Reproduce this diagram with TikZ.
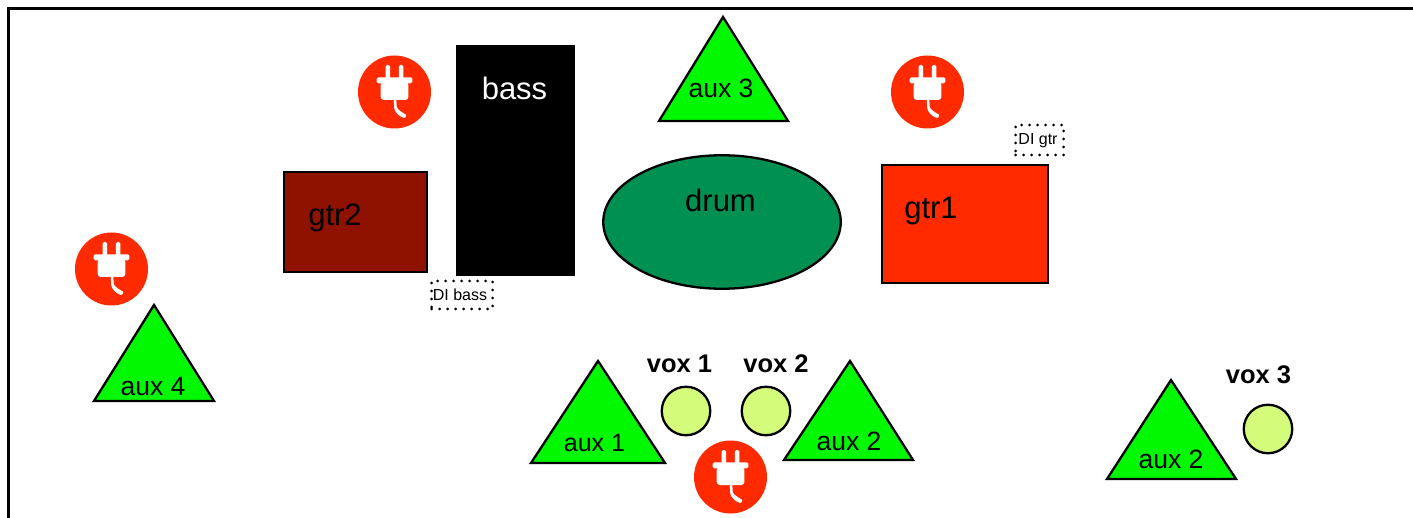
\documentclass[tikz,border=0pt]{standalone}
\usepackage{fontspec}
\usetikzlibrary{shapes.geometric}
\setmainfont{Liberation Sans}
\definecolor{plugred}{HTML}{FF2A00}
\definecolor{gtrtwo}{HTML}{8F1200}
\definecolor{drumgreen}{HTML}{009051}
\definecolor{auxgreen}{HTML}{00F900}
\definecolor{voxgreen}{HTML}{D4FB79}
\newcommand{\fs}[1]{\fontsize{#1}{#1}\selectfont}
\tikzset{
  outline/.style={draw=black,line width=2.3pt},
  tri/.style={outline,fill=auxgreen,line join=miter},
  lbl/.style={inner sep=0pt,font=\fs{31}},
  auxlbl/.style={inner sep=0pt,font=\fs{26.5}},
  voxlbl/.style={inner sep=0pt,font=\fs{25.5}\bfseries},
  vox/.style={outline,fill=voxgreen,circle,minimum size=48.5pt,inner sep=0pt},
  di/.style={inner sep=0pt,rectangle,font=\fs{16}},
  dots/.style={draw=black,line width=3pt,line cap=round,dash pattern=on 0pt off 8pt},
  plugdisc/.style={circle,fill=plugred,minimum size=73pt,inner sep=0pt},
  plug/.pic={
    \fill[white,rounded corners=1.5pt] (-8.9,-10) -- (-8.9,-27) -- (-4.3,-27) -- (-4.3,-10) -- cycle;
    \fill[white,rounded corners=1.5pt] (4.3,-10) -- (4.3,-27) -- (8.9,-27) -- (8.9,-10) -- cycle;
    \fill[white,rounded corners=1.5pt] (-17.8,-14.7) -- (17.8,-14.7) -- (17.8,-8.7) -- (-17.8,-8.7) -- cycle;
    \fill[white,rounded corners=3pt] (-13.8,-10) -- (13.8,-10) -- (13.8,8) -- (-13.8,8) -- cycle;
    \fill[white,rounded corners=0.8pt] (-0.8,7) -- (1.8,7) -- (2.2,15) .. controls (4,18.5) and (8,20.5) .. (12,23) -- (10.5,26) .. controls (6,25.5) and (1,21) .. (-0.2,16.5) -- cycle;
  }
}
\begin{document}
\begin{tikzpicture}[x=1pt,y=-1pt]
\useasboundingbox (0,0) rectangle (1413,518);
\fill[white] (0,0) rectangle (1413,518);
\draw[black,line width=2.6pt] (8.5,518) -- (8.5,8.5) -- (1413,8.5);

% stage blocks
\node[outline,fill=black,minimum width=117.5pt,minimum height=229.5pt,inner sep=0pt] (bassbox) at (515.5,160.5) {};
\node[lbl,text=white] (basslbl) at (514.5,88) {bass};
\node[outline,fill=gtrtwo,minimum width=143.5pt,minimum height=100.5pt,inner sep=0pt] (gtrtwobox) at (355.5,222) {};
\node[lbl] (gtrtwolbl) at (335,218) {gtr2};
\node[outline,fill=drumgreen,ellipse,minimum width=237.5pt,minimum height=133.5pt,inner sep=0pt] (drumbox) at (722,222) {};
\node[lbl] (drumlbl) at (720.5,200) {drum};
\node[outline,fill=plugred,minimum width=166.5pt,minimum height=118.5pt,inner sep=0pt] (gtronebox) at (965,224) {};
\node[lbl] (gtronelbl) at (931,211) {gtr1};

% triangles
\draw[tri] (723,17) -- (788,121) -- (659,121) -- cycle;
\node[auxlbl] (auxthree) at (721,88) {aux 3};
\draw[tri] (154,305) -- (214,401) -- (94,401) -- cycle;
\node[auxlbl] (auxfour) at (153,387) {aux 4};
\draw[tri] (598,361) -- (665,463) -- (531,463) -- cycle;
\node[inner sep=0pt,font=\fs{25}] (auxone) at (594.5,443) {aux 1};
\draw[tri] (850,361) -- (913,460) -- (784,460) -- cycle;
\node[auxlbl] (auxtwo) at (849,441) {aux 2};
\draw[tri] (1171,380) -- (1236,479) -- (1107,479) -- cycle;
\node[auxlbl] (auxtwob) at (1171,459) {aux 2};

% vocals
\node[vox] (voxone) at (686,411) {};
\node[vox] (voxtwo) at (766,411) {};
\node[vox] (voxthree) at (1268,429) {};
\node[voxlbl] (voxonelbl) at (679.5,364) {vox 1};
\node[voxlbl] (voxtwolbl) at (776,364) {vox 2};
\node[voxlbl] (voxthreelbl) at (1258.5,375) {vox 3};

% DI boxes
\node[dots,rectangle,minimum width=61pt,minimum height=28pt,inner sep=0pt] (dibassbox) at (462,295) {};
\node[di] (dibass) at (460,294.5) {DI bass};
\node[dots,rectangle,minimum width=48pt,minimum height=30pt,inner sep=0pt] (digtrbox) at (1039.5,140) {};
\node[di] (digtr) at (1038,140.5) {DI gtr};

% power
\node[plugdisc] (plugA) at (394.5,92) {};
\pic at (plugA.center) {plug};
\node[plugdisc] (plugB) at (927.5,92) {};
\pic at (plugB.center) {plug};
\node[plugdisc] (plugC) at (111.5,269) {};
\pic at (plugC.center) {plug};
\node[plugdisc] (plugD) at (730.5,477) {};
\pic at (plugD.center) {plug};
\end{tikzpicture}
\end{document}
